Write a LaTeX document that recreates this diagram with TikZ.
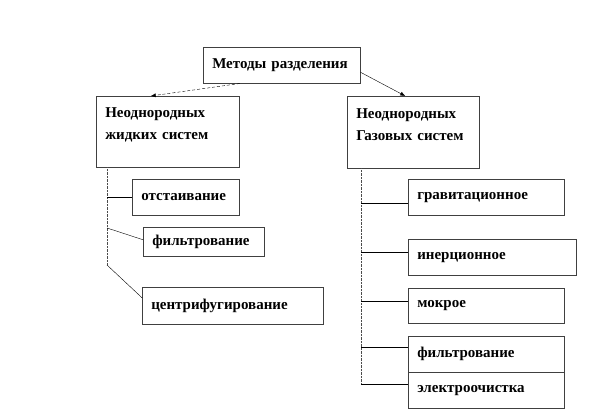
\documentclass[tikz,border=0pt]{standalone}
\usepackage{fontspec}
\setmainfont{Liberation Serif}
\usetikzlibrary{arrows.meta,positioning,shadows}
\tikzset{
  box/.style={draw=black!75,fill=white,line width=0.5pt,anchor=north west,
    align=left,inner xsep=9pt,font=\fontsize{15}{22}\selectfont\bfseries,
    drop shadow={shadow xshift=0.8pt,shadow yshift=-0.8pt,fill=black!80,opacity=1}},
  group/.style={box,inner ysep=4pt},
  arrow/.style={-{Latex[length=5pt,width=4pt]},draw=black,thin},
  trunk/.style={draw=black!70,densely dotted,thin},
  branch/.style={draw=black,thin}
}
\begin{document}
\begin{tikzpicture}[x=1pt,y=-1pt]
  \useasboundingbox (0,0) rectangle (612,411);
  % head
  \node[box,text width=139,minimum height=36] (m) at (203,47) {Методы разделения};
  % groups
  \node[group,text width=125,minimum height=71] (liq) at (96,96) {Неоднородных\\жидких систем\\[-6pt]~};
  \node[group,text width=114,minimum height=72] (gas) at (347,96) {Неоднородных\\Газовых систем\\[-6pt]~};
  \draw[arrow,densely dashed] ([xshift=-42]m.south) -- ([xshift=-17]liq.north);
  \draw[arrow] ([yshift=-7]m.east) -- ([xshift=-8]gas.north);
  % liquid methods
  \node[box,text width=89,minimum height=36] (l1) at (132,179) {отстаивание};
  \node[box,text width=103,minimum height=29] (l2) at (143,227) {фильтрование};
  \node[box,text width=163,minimum height=37] (l3) at (142,287) {центрифугирование};
  \coordinate (lt) at ([xshift=11]liq.south west);
  \coordinate (lb) at (lt |- 0,265);
  \draw[trunk] (lt) -- (lb);
  \draw[branch] (lt |- l1.west) -- (l1.west);
  \draw[branch] (lt |- 0,228) -- ([yshift=2]l2.west);
  \draw[branch] (lb) -- ([yshift=8]l3.west);
  % gas methods
  \node[box,text width=138,minimum height=36] (g1) at (408,179) {гравитационное};
  \node[box,text width=150,minimum height=36] (g2) at (408,239) {инерционное};
  \node[box,text width=138,minimum height=35] (g3) at (408,288) {мокрое};
  \node[box,text width=138,minimum height=36] (g4) at (408,336) {фильтрование};
  \node[box,text width=138,minimum height=36] (g5) at (408,372) {электроочистка};
  \coordinate (gt) at ([xshift=14]gas.south west);
  \draw[trunk] (gt) -- (gt |- 0,384);
  \foreach \n/\dy in {g1/-6,g2/5,g3/5,g4/7,g5/6} {
    \coordinate (p) at ([yshift=\dy]\n.west);
    \draw[branch] (gt |- p) -- (p);
  }
\end{tikzpicture}
\end{document}
